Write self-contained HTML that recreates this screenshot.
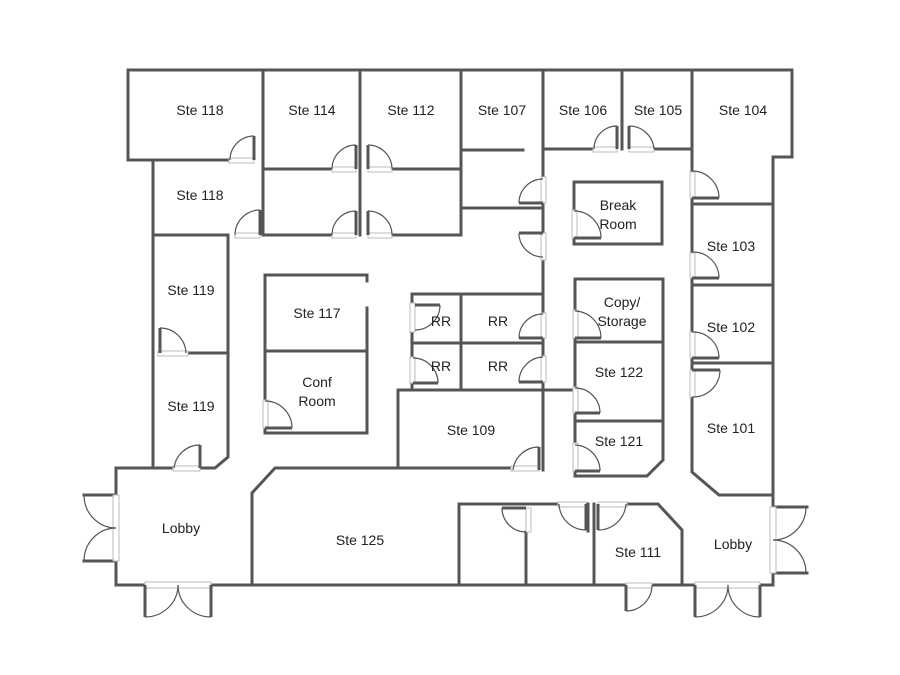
<!DOCTYPE html>
<html><head><meta charset="utf-8"><style>
html,body{margin:0;padding:0;background:#fff;}
svg{display:block}
text{font-family:"Liberation Sans",sans-serif;font-size:14px;fill:#222;text-anchor:middle}
.w{stroke:#555;stroke-width:3;fill:none;stroke-linecap:square}
.d{stroke:#555;stroke-width:1.2;fill:none}
.l{stroke:#555;stroke-width:3;fill:none}
.f{stroke:#bbb;stroke-width:1;fill:#fff}
</style></head><body>
<svg width="900" height="675" viewBox="0 0 900 675">
<!-- walls -->
<g class="w">
<polyline points="128,160 128,70 792,70 792,157 773,157 773,495"/>
<polyline points="128,160 229,160"/>
<line x1="263" y1="70" x2="263" y2="235"/>
<line x1="360" y1="70" x2="360" y2="235"/>
<line x1="461" y1="70" x2="461" y2="235"/>
<polyline points="153,160 153,468"/>
<line x1="153" y1="235" x2="228" y2="235"/>
<polyline points="228,235 228,457 215,468 202,468"/>
<line x1="263" y1="169" x2="332" y2="169"/>
<line x1="392" y1="169" x2="461" y2="169"/>
<line x1="263" y1="235" x2="332" y2="235"/>
<line x1="392" y1="235" x2="461" y2="235"/>
<line x1="461" y1="150" x2="523" y2="150"/>
<line x1="461" y1="208" x2="543" y2="208"/>
<line x1="543" y1="70" x2="543" y2="177"/>
<line x1="543" y1="203" x2="543" y2="233"/>
<line x1="543" y1="260" x2="543" y2="313"/>
<line x1="543" y1="338" x2="543" y2="356"/>
<line x1="543" y1="382" x2="543" y2="470"/>
<line x1="622" y1="70" x2="622" y2="149"/>
<line x1="543" y1="149" x2="593" y2="149"/>
<line x1="654" y1="149" x2="692" y2="149"/>
<line x1="692" y1="70" x2="692" y2="172"/>
<line x1="692" y1="198" x2="692" y2="253"/>
<line x1="692" y1="278" x2="692" y2="332"/>
<line x1="692" y1="358" x2="692" y2="370"/>
<polyline points="692,397 692,472 719,495 773,495"/>
<line x1="692" y1="204" x2="773" y2="204"/>
<line x1="692" y1="285" x2="773" y2="285"/>
<line x1="692" y1="363" x2="773" y2="363"/>
<polyline points="574,210 574,182 662,182 662,244 574,244 574,238"/>
<polyline points="575,310 575,279 663,279 663,460 647,476 575,476 575,471"/>
<line x1="575" y1="338" x2="575" y2="387"/>
<line x1="575" y1="413" x2="575" y2="443"/>
<line x1="575" y1="342" x2="663" y2="342"/>
<line x1="575" y1="421" x2="663" y2="421"/>
<line x1="398" y1="390" x2="575" y2="390"/>
<polyline points="398,390 398,468"/>
<polyline points="511,468 275,468 252,493 252,585"/>
<line x1="412" y1="294" x2="543" y2="294"/>
<line x1="412" y1="294" x2="412" y2="303"/>
<line x1="412" y1="332" x2="412" y2="357"/>
<line x1="461" y1="294" x2="461" y2="390"/>
<line x1="412" y1="343" x2="543" y2="343"/>
<line x1="412" y1="383" x2="412" y2="390"/>
<polyline points="367,281 367,275 265,275 265,400"/>
<polyline points="367,308 367,433 265,433 265,428"/>
<line x1="265" y1="351" x2="367" y2="351"/>
<line x1="188" y1="353" x2="228" y2="353"/>
<polyline points="173,468 116,468 116,495 84,495"/>
<polyline points="84,561 116,561 116,585 145,585"/>
<line x1="211" y1="585" x2="626" y2="585"/>
<line x1="652" y1="585" x2="695" y2="585"/>
<polyline points="760,585 773,585 773,573 807,573"/>
<polyline points="773,495 773,507 807,507"/>
<polyline points="459,585 459,504 558,504"/>
<polyline points="627,504 658,504 682,530 682,585"/>
<line x1="526" y1="532" x2="526" y2="585"/>
<line x1="588" y1="504" x2="588" y2="531"/>
<line x1="594" y1="504" x2="594" y2="585"/>
</g>
<!-- door frames -->
<g class="f">
<rect x="229" y="158" width="25" height="5"/>
<rect x="235" y="233" width="25" height="5"/>
<rect x="332" y="167" width="24" height="5"/><rect x="368" y="167" width="24" height="5"/>
<rect x="332" y="233" width="24" height="5"/><rect x="368" y="233" width="24" height="5"/>
<rect x="541" y="177" width="5" height="26"/><rect x="541" y="233" width="5" height="27"/>
<rect x="593" y="147" width="24" height="5"/><rect x="629" y="147" width="25" height="5"/>
<rect x="690" y="172" width="5" height="26"/><rect x="690" y="253" width="5" height="25"/>
<rect x="690" y="332" width="5" height="26"/><rect x="690" y="370" width="5" height="27"/>
<rect x="572" y="210" width="5" height="28"/><rect x="573" y="310" width="5" height="28"/>
<rect x="573" y="387" width="5" height="26"/><rect x="573" y="443" width="5" height="28"/>
<rect x="541" y="313" width="5" height="25"/><rect x="541" y="356" width="5" height="26"/>
<rect x="410" y="303" width="5" height="29"/><rect x="410" y="357" width="5" height="26"/>
<rect x="158" y="351" width="30" height="5"/><rect x="263" y="400" width="5" height="28"/>
<rect x="511" y="466" width="28" height="5"/><rect x="173" y="466" width="27" height="5"/>
<rect x="113" y="495" width="6" height="66"/><rect x="145" y="582" width="66" height="6"/>
<rect x="526" y="508" width="5" height="24"/><rect x="558" y="502" width="28" height="5"/>
<rect x="598" y="502" width="29" height="5"/><rect x="626" y="583" width="26" height="5"/>
<rect x="695" y="582" width="65" height="6"/><rect x="770" y="507" width="6" height="66"/>
</g>
<!-- door leaves -->
<g class="l">
<line x1="254" y1="160" x2="254" y2="136"/><line x1="260" y1="235" x2="260" y2="210"/>
<line x1="356" y1="169" x2="356" y2="145"/><line x1="368" y1="169" x2="368" y2="145"/>
<line x1="356" y1="235" x2="356" y2="211"/><line x1="368" y1="235" x2="368" y2="211"/>
<line x1="543" y1="203" x2="519" y2="203"/><line x1="543" y1="233" x2="519" y2="233"/>
<line x1="617" y1="149" x2="617" y2="126"/><line x1="629" y1="149" x2="629" y2="126"/>
<line x1="692" y1="198" x2="719" y2="198"/><line x1="692" y1="278" x2="719" y2="278"/>
<line x1="692" y1="358" x2="719" y2="358"/><line x1="692" y1="370" x2="720" y2="370"/>
<line x1="574" y1="238" x2="601" y2="238"/><line x1="575" y1="338" x2="601" y2="338"/>
<line x1="575" y1="413" x2="600" y2="413"/><line x1="575" y1="471" x2="600" y2="471"/>
<line x1="543" y1="338" x2="519" y2="338"/><line x1="543" y1="382" x2="519" y2="382"/>
<line x1="415" y1="305" x2="440" y2="305"/><line x1="413" y1="383" x2="438" y2="383"/>
<line x1="160" y1="353" x2="160" y2="328"/><line x1="265" y1="428" x2="292" y2="428"/>
<line x1="539" y1="470" x2="539" y2="447"/><line x1="200" y1="468" x2="200" y2="445"/>
<line x1="526" y1="508" x2="502" y2="508"/>
<line x1="586" y1="504" x2="586" y2="530"/><line x1="598" y1="504" x2="598" y2="530"/>
<line x1="626" y1="585" x2="626" y2="611"/>
<line x1="145" y1="585" x2="145" y2="617"/><line x1="211" y1="585" x2="211" y2="617"/>
<line x1="695" y1="585" x2="695" y2="617"/><line x1="760" y1="585" x2="760" y2="617"/>
</g>
<!-- arcs -->
<g class="d">
<path d="M254,136 A24,24 0 0 0 230,160"/>
<path d="M260,210 A25,25 0 0 0 235,235"/>
<path d="M356,145 A24,24 0 0 0 332,169"/><path d="M368,145 A24,24 0 0 1 392,169"/>
<path d="M356,211 A24,24 0 0 0 332,235"/><path d="M368,211 A24,24 0 0 1 392,235"/>
<path d="M519,203 A24,24 0 0 1 543,179"/><path d="M519,233 A24,24 0 0 0 543,257"/>
<path d="M617,126 A23,23 0 0 0 594,149"/><path d="M629,126 A25,25 0 0 1 654,149"/>
<path d="M719,198 A27,27 0 0 0 692,171"/><path d="M719,278 A26,26 0 0 0 692,252"/>
<path d="M719,358 A26,26 0 0 0 692,332"/><path d="M720,370 A27,27 0 0 1 692,397"/>
<path d="M601,238 A27,27 0 0 0 574,211"/><path d="M601,338 A27,27 0 0 0 575,311"/>
<path d="M600,413 A25,25 0 0 0 575,388"/><path d="M600,471 A26,26 0 0 0 575,445"/>
<path d="M519,338 A24,24 0 0 1 543,314"/><path d="M519,382 A25,25 0 0 1 543,357"/>
<path d="M440,305 A25,25 0 0 1 415,330"/><path d="M438,383 A25,25 0 0 0 413,358"/>
<path d="M160,328 A26,26 0 0 1 186,353"/><path d="M292,428 A27,27 0 0 0 265,401"/>
<path d="M539,447 A26,26 0 0 0 513,470"/><path d="M200,445 A26,26 0 0 0 174,468"/>
<path d="M502,508 A24,24 0 0 0 526,532"/>
<path d="M586,530 A27,27 0 0 1 559,504"/><path d="M598,530 A28,28 0 0 0 626,504"/>
<path d="M626,611 A26,26 0 0 0 652,585"/>
<path d="M84,495 A32,33 0 0 0 116,528"/><path d="M84,561 A32,33 0 0 1 116,528"/>
<path d="M145,617 A33,32 0 0 0 178,585"/><path d="M211,617 A33,32 0 0 1 178,585"/>
<path d="M695,617 A33,32 0 0 0 728,585"/><path d="M760,617 A32,32 0 0 1 728,585"/>
<path d="M806,507 A33,33 0 0 1 773,540"/><path d="M806,573 A33,33 0 0 0 773,540"/>
</g>
<!-- labels -->
<text x="200" y="115">Ste 118</text>
<text x="312" y="115">Ste 114</text>
<text x="411" y="115">Ste 112</text>
<text x="502" y="115">Ste 107</text>
<text x="583" y="115">Ste 106</text>
<text x="658" y="115">Ste 105</text>
<text x="743" y="115">Ste 104</text>
<text x="200" y="200">Ste 118</text>
<text x="191" y="295">Ste 119</text>
<text x="191" y="411">Ste 119</text>
<text x="317" y="318">Ste 117</text>
<text x="317" y="387">Conf</text>
<text x="317" y="406">Room</text>
<text x="441" y="326">RR</text>
<text x="498" y="326">RR</text>
<text x="441" y="371">RR</text>
<text x="498" y="371">RR</text>
<text x="618" y="210">Break</text>
<text x="618" y="229">Room</text>
<text x="622" y="307">Copy/</text>
<text x="622" y="326">Storage</text>
<text x="619" y="377">Ste 122</text>
<text x="619" y="446">Ste 121</text>
<text x="471" y="435">Ste 109</text>
<text x="731" y="251">Ste 103</text>
<text x="731" y="332">Ste 102</text>
<text x="731" y="433">Ste 101</text>
<text x="181" y="533">Lobby</text>
<text x="360" y="545">Ste 125</text>
<text x="638" y="557">Ste 111</text>
<text x="733" y="549">Lobby</text>
</svg>
</body></html>
